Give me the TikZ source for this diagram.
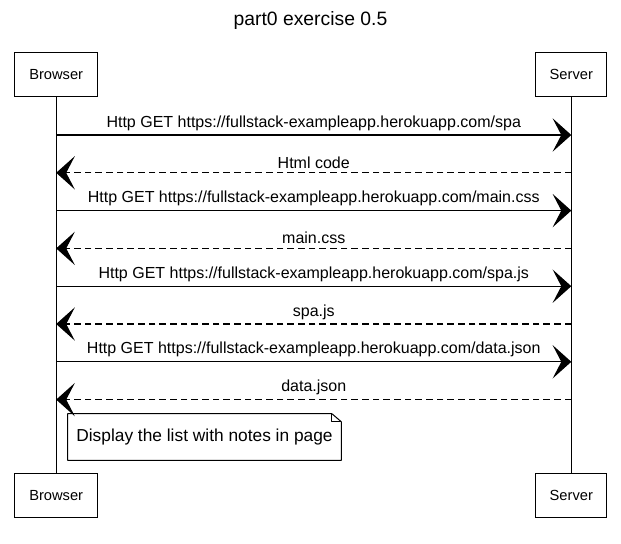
\documentclass[tikz,border=0pt]{standalone}
\usepackage{fontspec}
\setmainfont{Liberation Sans}
\usetikzlibrary{arrows.meta,calc}

\begin{document}
\begin{tikzpicture}[x=0.75pt,y=-0.75pt,>={Stealth[length=14pt,width=25pt,inset=6.5pt]},
actor/.style={draw,line width=0.75pt,minimum height=33pt,inner sep=0pt,font=\fontsize{11}{13}\selectfont},
lifeline/.style={draw,line width=0.75pt},request/.style={->,line width=0.9pt},reply/.style={->,line width=0.9pt,dash pattern=on 5pt off 3pt},
msglabel/.style={midway,above=1pt,inner sep=2pt,font=\fontsize{12}{14}\selectfont},
notebox/.style={minimum width=204.75pt,minimum height=34.5pt,inner sep=0pt,font=\fontsize{13}{15}\selectfont},noteline/.style={draw,line width=0.75pt,line join=round}]
\useasboundingbox[fill=white] (0,0) rectangle (621,543);
\node[font=\fontsize{14.5}{17}\selectfont] (title) at (310.5,21) {part0 exercise 0.5};
\node[actor,minimum width=62.25pt] (btop) at (56.2,74.7) {Browser};
\node[actor,minimum width=53pt] (stop) at (571.3,74.7) {Server};
\node[actor,minimum width=62.25pt] (bbot) at (56.2,495.5) {Browser};
\node[actor,minimum width=53pt] (sbot) at (571.3,495.5) {Server};
\draw[lifeline] (btop) -- (bbot);
\draw[lifeline] (stop) -- (sbot);
% requests from the browser
\foreach \y/\txt [count=\i] in {135/{Http GET https://fullstack-exampleapp.herokuapp.com/spa},210.6/{Http GET https://fullstack-exampleapp.herokuapp.com/main.css},286.2/{Http GET https://fullstack-exampleapp.herokuapp.com/spa.js},361.8/{Http GET https://fullstack-exampleapp.herokuapp.com/data.json}}{
\coordinate (qb\i) at (btop |- 0,\y); \coordinate (qs\i) at (stop |- 0,\y);
\draw[request] (qb\i) -- node[msglabel] {\txt} (qs\i);}
% answers from the server
\foreach \y/\txt [count=\i] in {172.8/{Html code},248.4/{main.css},324/{spa.js},399.6/{data.json}}{
\coordinate (rb\i) at (btop |- 0,\y); \coordinate (rs\i) at (stop |- 0,\y);
\draw[reply] (rs\i) -- node[msglabel] {\txt} (rb\i);}
% note
\node[notebox] (note) at (204.5,437) {Display the list with notes in page};
\draw[noteline] (note.north west) -- ([xshift=-7pt]note.north east) -- ([yshift=-6pt]note.north east) -- (note.south east) -- (note.south west) -- cycle;
\draw[noteline] ([xshift=-7pt]note.north east) -- ([xshift=-7pt,yshift=-6pt]note.north east) -- ([yshift=-6pt]note.north east);
\end{tikzpicture}
\end{document}
